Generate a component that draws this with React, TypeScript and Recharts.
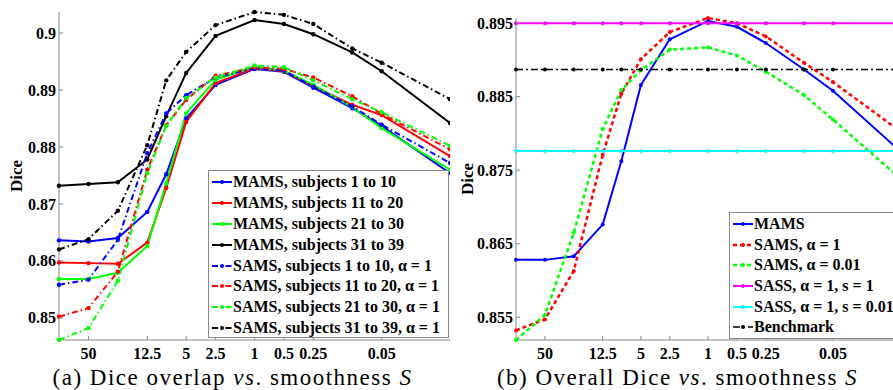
import { Legend, Line, LineChart, XAxis, YAxis } from "recharts";

// smoothness S (log axis, decreasing to the right)
const sValues = [100, 50, 25, 12.5, 8, 5, 2.5, 1, 0.5, 0.25, 0.1, 0.05, 0.01];
const xTicks = [50, 12.5, 5, 2.5, 1, 0.5, 0.25, 0.05];
const leftYTicks = [0.85, 0.86, 0.87, 0.88, 0.89, 0.9];
const rightYTicks = [0.855, 0.865, 0.875, 0.885, 0.895];

// (a) Dice per subject group
const mams1to10 = [0.8636, 0.8634, 0.864, 0.8686, 0.8752, 0.885, 0.8909, 0.8937, 0.8932, 0.8904, 0.8868, 0.8837, 0.8754];
const mams11to20 = [0.8597, 0.8596, 0.8595, 0.8632, 0.8728, 0.8844, 0.8912, 0.8938, 0.8933, 0.8907, 0.8874, 0.8856, 0.8784];
const mams21to30 = [0.8568, 0.8568, 0.8579, 0.8626, 0.8736, 0.8859, 0.8918, 0.8941, 0.8934, 0.8909, 0.887, 0.8833, 0.876];
const mams31to39 = [0.8732, 0.8735, 0.8738, 0.8778, 0.8854, 0.893, 0.8995, 0.9023, 0.9016, 0.8998, 0.8966, 0.8933, 0.8842];
const sams1to10 = [0.8558, 0.8567, 0.8637, 0.8789, 0.8859, 0.8891, 0.8922, 0.8938, 0.8934, 0.8906, 0.8871, 0.8839, 0.8772];
const sams11to20 = [0.8502, 0.8517, 0.8581, 0.876, 0.8838, 0.8883, 0.8925, 0.894, 0.8937, 0.8922, 0.8889, 0.8858, 0.8796];
const sams21to30 = [0.8461, 0.8482, 0.8565, 0.8754, 0.8837, 0.8886, 0.8922, 0.8943, 0.894, 0.8917, 0.8884, 0.8861, 0.8802];
const sams31to39 = [0.862, 0.8638, 0.8688, 0.8803, 0.8917, 0.8967, 0.9014, 0.9037, 0.9032, 0.9016, 0.8973, 0.8948, 0.8884];

// (b) overall Dice
const mamsAll = [0.8628, 0.8628, 0.8633, 0.8676, 0.8762, 0.8866, 0.8928, 0.8953, 0.8945, 0.8923, 0.8887, 0.8858, 0.8776];
const samsAlpha1 = [0.8532, 0.8547, 0.8613, 0.8771, 0.8854, 0.8901, 0.8938, 0.8957, 0.895, 0.8932, 0.8896, 0.887, 0.8803];
const samsAlpha001 = [0.8519, 0.8553, 0.8665, 0.8806, 0.8859, 0.8886, 0.8914, 0.8917, 0.8906, 0.8884, 0.8852, 0.8819, 0.8739];
const sassS1 = [0.895, 0.895, 0.895, 0.895, 0.895, 0.895, 0.895, 0.895, 0.895, 0.895, 0.895, 0.895, 0.895];
const sassS001 = [0.8776, 0.8776, 0.8776, 0.8776, 0.8776, 0.8776, 0.8776, 0.8776, 0.8776, 0.8776, 0.8776, 0.8776, 0.8776];
const benchmark = [0.8887, 0.8887, 0.8887, 0.8887, 0.8887, 0.8887, 0.8887, 0.8887, 0.8887, 0.8887, 0.8887, 0.8887, 0.8887];

const leftData = sValues.map((s, i) => ({
  s,
  m1: mams1to10[i],
  m2: mams11to20[i],
  m3: mams21to30[i],
  m4: mams31to39[i],
  s1: sams1to10[i],
  s2: sams11to20[i],
  s3: sams21to30[i],
  s4: sams31to39[i],
}));

const rightData = sValues.map((s, i) => ({
  s,
  mams: mamsAll[i],
  samsA: samsAlpha1[i],
  samsB: samsAlpha001[i],
  sassA: sassS1[i],
  sassB: sassS001[i],
  bench: benchmark[i],
}));

const DASHDOT = "6 3 1.5 3";

const leftSeries = [
  { key: "m1", name: "MAMS, subjects 1 to 10", color: "#0000ff", dash: undefined, w: 2 },
  { key: "m2", name: "MAMS, subjects 11 to 20", color: "#ff0000", dash: undefined, w: 2 },
  { key: "m3", name: "MAMS, subjects 21 to 30", color: "#00ff00", dash: undefined, w: 2 },
  { key: "m4", name: "MAMS, subjects 31 to 39", color: "#000000", dash: undefined, w: 2 },
  { key: "s1", name: "SAMS, subjects 1 to 10, α = 1", color: "#0000ff", dash: DASHDOT, w: 2 },
  { key: "s2", name: "SAMS, subjects 11 to 20, α = 1", color: "#ff0000", dash: DASHDOT, w: 2 },
  { key: "s3", name: "SAMS, subjects 21 to 30, α = 1", color: "#00ff00", dash: DASHDOT, w: 2 },
  { key: "s4", name: "SAMS, subjects 31 to 39, α = 1", color: "#000000", dash: DASHDOT, w: 2 },
];

const rightSeries = [
  { key: "mams", name: "MAMS", color: "#0000ff", dash: undefined, w: 2 },
  { key: "samsA", name: "SAMS, α = 1", color: "#ff0000", dash: "4 3", w: 2.5 },
  { key: "samsB", name: "SAMS, α = 0.01", color: "#00ff00", dash: "4 3", w: 2.5 },
  { key: "sassA", name: "SASS, α = 1, s = 1", color: "#ff00ff", dash: undefined, w: 2 },
  { key: "sassB", name: "SASS, α = 1, s = 0.01", color: "#00ffff", dash: undefined, w: 2 },
  { key: "bench", name: "Benchmark", color: "#000000", dash: "7 3 2 3", w: 1.5 },
];

const serif = "'Liberation Serif', 'Times New Roman', serif";
const AXIS = "#888888";

const XTick = (props: any) => {
  const { x, y, payload } = props;
  return (
    <g>
      <line x1={x} x2={x} y1={y} y2={y - 4} stroke={AXIS} />
      <text x={x} y={y + 19} textAnchor="middle" fontFamily={serif} fontWeight="bold" fontSize={16} fill="#000">
        {String(payload.value)}
      </text>
    </g>
  );
};

const YTick = (props: any) => {
  const { x, y, payload } = props;
  return (
    <g>
      <line x1={x} x2={x + 4} y1={y} y2={y} stroke={AXIS} />
      <text x={x - 3} y={y} dy="0.35em" textAnchor="end" fontFamily={serif} fontWeight="bold" fontSize={16} fill="#000">
        {String(payload.value)}
      </text>
    </g>
  );
};

const diceLabel = (dx: number) => (props: any) => {
  const vb = props.viewBox;
  const cx = vb.x + dx;
  const cy = vb.y + vb.height / 2;
  return (
    <text
      x={cx}
      y={cy}
      transform={`rotate(-90 ${cx} ${cy})`}
      textAnchor="middle"
      dy="0.35em"
      fontFamily={serif}
      fontWeight="bold"
      fontSize={17}
      fill="#000"
    >
      Dice
    </text>
  );
};

const LegendBox = ({ items, rowH }: { items: any[]; rowH: number }) => (
  <div
    style={{
      border: `1px solid ${AXIS}`,
      background: "#fff",
      boxSizing: "border-box",
      width: "100%",
      height: "100%",
      paddingTop: 1,
      overflow: "hidden",
    }}
  >
    {items.map((it) => (
      <div key={it.key} style={{ display: "flex", alignItems: "center", height: rowH, whiteSpace: "nowrap" }}>
        <svg width={24} height={10} style={{ flex: "none" }}>
          <line x1={3} x2={23} y1={5} y2={5} stroke={it.color} strokeWidth={it.w} strokeDasharray={it.dash} />
          <circle cx={13} cy={5} r={2} fill={it.color} />
        </svg>
        <span style={{ fontFamily: serif, fontWeight: "bold", fontSize: 16, lineHeight: "16px", color: "#000" }}>
          {it.name}
        </span>
      </div>
    ))}
  </div>
);

const captionStyle: any = {
  position: "absolute",
  top: 366,
  fontFamily: serif,
  fontSize: 23,
  lineHeight: "23px",
  letterSpacing: 1.5,
  textAlign: "center",
  whiteSpace: "nowrap",
  color: "#000",
};

const App = () => {
  return (
    <div
      style={{
        position: "fixed",
        left: 0,
        top: 0,
        width: 893,
        height: 390,
        overflow: "hidden",
        background: "#fff",
      }}
    >
      <div style={{ position: "absolute", left: 0, top: 0 }}>
        <LineChart width={450} height={365} data={leftData} margin={{ top: 12, right: 0, left: 0, bottom: 0 }}>
          <XAxis
            dataKey="s"
            type="number"
            scale="log"
            domain={[0.01, 100]}
            reversed
            ticks={xTicks}
            interval={0}
            height={25}
            stroke={AXIS}
            tickSize={0}
            tickMargin={0}
            tickLine={false}
            tick={<XTick />}
          />
          <YAxis
            type="number"
            domain={[0.8461, 0.9037]}
            ticks={leftYTicks}
            interval={0}
            width={59}
            stroke={AXIS}
            tickSize={0}
            tickMargin={0}
            tickLine={false}
            tick={<YTick />}
            label={diceLabel(16)}
          />
          {leftSeries.map((sr) => (
            <Line
              key={sr.key}
              type="linear"
              dataKey={sr.key}
              name={sr.name}
              stroke={sr.color}
              strokeWidth={sr.w}
              strokeDasharray={sr.dash}
              dot={{ r: 2.2, fill: sr.color, stroke: "none" }}
              isAnimationActive={false}
            />
          ))}
          <Legend
            layout="vertical"
            align="center"
            verticalAlign="middle"
            wrapperStyle={{ left: 208, top: 170, width: 241, height: 168 }}
            content={() => <LegendBox items={leftSeries} rowH={20.8} />}
          />
        </LineChart>
      </div>

      <div style={{ position: "absolute", left: 450, top: 0 }}>
        <LineChart width={450} height={365} data={rightData} margin={{ top: 18, right: 0, left: 0, bottom: 0 }}>
          <XAxis
            dataKey="s"
            type="number"
            scale="log"
            domain={[0.01, 100]}
            reversed
            ticks={xTicks}
            interval={0}
            height={25}
            stroke={AXIS}
            tickSize={0}
            tickMargin={0}
            tickLine={false}
            tick={<XTick />}
          />
          <YAxis
            type="number"
            domain={[0.8519, 0.8957]}
            ticks={rightYTicks}
            interval={0}
            width={66}
            stroke={AXIS}
            tickSize={0}
            tickMargin={0}
            tickLine={false}
            tick={<YTick />}
            label={diceLabel(17)}
          />
          {rightSeries.map((sr) => (
            <Line
              key={sr.key}
              type="linear"
              dataKey={sr.key}
              name={sr.name}
              stroke={sr.color}
              strokeWidth={sr.w}
              strokeDasharray={sr.dash}
              dot={{ r: 2, fill: sr.color, stroke: "none" }}
              isAnimationActive={false}
            />
          ))}
          <Legend
            layout="vertical"
            align="center"
            verticalAlign="middle"
            wrapperStyle={{ left: 279, top: 212, width: 180, height: 127 }}
            content={() => <LegendBox items={rightSeries} rowH={20.6} />}
          />
        </LineChart>
      </div>

      <div style={{ ...captionStyle, left: 0, width: 465 }}>
        (a) Dice overlap <i>vs</i>. smoothness <i>S</i>
      </div>
      <div style={{ ...captionStyle, left: 455, width: 445 }}>
        (b) Overall Dice <i>vs</i>. smoothness <i>S</i>
      </div>
    </div>
  );
};

export default App;
